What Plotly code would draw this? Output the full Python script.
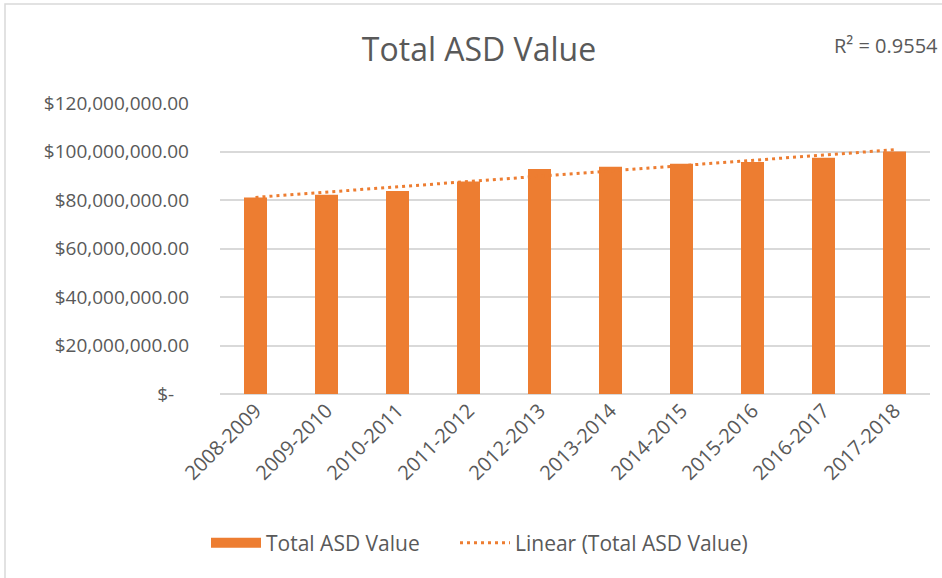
import numpy as np
import plotly.graph_objects as go

categories = ["2008-2009", "2009-2010", "2010-2011", "2011-2012", "2012-2013",
              "2013-2014", "2014-2015", "2015-2016", "2016-2017", "2017-2018"]
values = [81.0e6, 82.2e6, 83.7e6, 87.6e6, 92.8e6, 93.7e6, 94.9e6, 95.7e6, 97.4e6, 100.0e6]
tick_vals = [0, 20e6, 40e6, 60e6, 80e6, 100e6, 120e6]
tick_text = ["$-\u00a0\u00a0\u00a0", "$20,000,000.00", "$40,000,000.00", "$60,000,000.00",
             "$80,000,000.00", "$100,000,000.00", "$120,000,000.00"]
r2_text = "R² = 0.9554"

ORANGE = "#ED7D31"
GRAY = "#595959"
GRID = "#D9D9D9"
FONT = "Open Sans"

idx = np.arange(len(values))
slope, intercept = np.polyfit(idx, values, 1)
trend = slope * idx + intercept

fig = go.Figure()
fig.add_trace(go.Bar(x=categories, y=values, name="Total ASD Value",
                     marker=dict(color=ORANGE, line=dict(width=0)),
                     showlegend=False, legendgroup="bar"))
# legend entry drawn as a wide rectangle (like the reference)
fig.add_trace(go.Scatter(x=[None], y=[None], mode="lines", name="Total ASD Value",
                         line=dict(color=ORANGE, width=13), legendgroup="bar",
                         hoverinfo="skip", legend="legend"))
fig.add_trace(go.Scatter(x=categories, y=trend, mode="lines",
                         name="Linear (Total ASD Value)",
                         line=dict(color=ORANGE, width=3, dash="3px,4px"),
                         legend="legend2"))

legend_common = dict(orientation="h", xanchor="left", y=-0.512, yanchor="middle",
                     font=dict(family=FONT, size=21, color=GRAY), itemwidth=50,
                     bgcolor="rgba(0,0,0,0)")

fig.update_layout(
    width=942, height=578,
    margin=dict(l=220, r=12, t=103, b=184, autoexpand=False),
    paper_bgcolor="white", plot_bgcolor="white",
    bargap=0.676,
    font=dict(family=FONT, color=GRAY, size=20),
    title=dict(text="Total ASD Value", x=479/942, xanchor="center",
               y=1 - 50/578, yanchor="middle",
               font=dict(family=FONT, size=32, color=GRAY)),
    showlegend=True,
    legend=dict(x=(206 - 220) / 710, **legend_common),
    legend2=dict(x=(455 - 220) / 710, **legend_common),
    xaxis=dict(tickangle=-45, showgrid=False, showline=False, ticks="",
               automargin=False,
               tickfont=dict(family=FONT, size=20, color=GRAY)),
    yaxis=dict(range=[0, 120e6], tickvals=tick_vals, ticktext=tick_text,
               showgrid=True, gridcolor=GRID, gridwidth=1.5, zeroline=True,
               zerolinecolor=GRID, zerolinewidth=1.5, showline=False,
               ticklabelstandoff=30, automargin=False,
               tickfont=dict(family=FONT, size=19, color=GRAY)),
)

fig.add_annotation(text=r2_text, xref="paper", yref="paper",
                   x=(940 - 220) / 710, y=(394 - 45) / 291,
                   xanchor="right", yanchor="middle", showarrow=False,
                   font=dict(family=FONT, size=20, color=GRAY))

fig.add_shape(type="rect", xref="paper", yref="paper",
              x0=(5 - 220) / 710, x1=(950 - 220) / 710,
              y0=(394 - 585) / 291, y1=(394 - 4) / 291,
              line=dict(color=GRID, width=1.5), layer="below")

fig.write_html("out.html", config={"displayModeBar": False},
               post_script="document.body.style.margin='0';")
